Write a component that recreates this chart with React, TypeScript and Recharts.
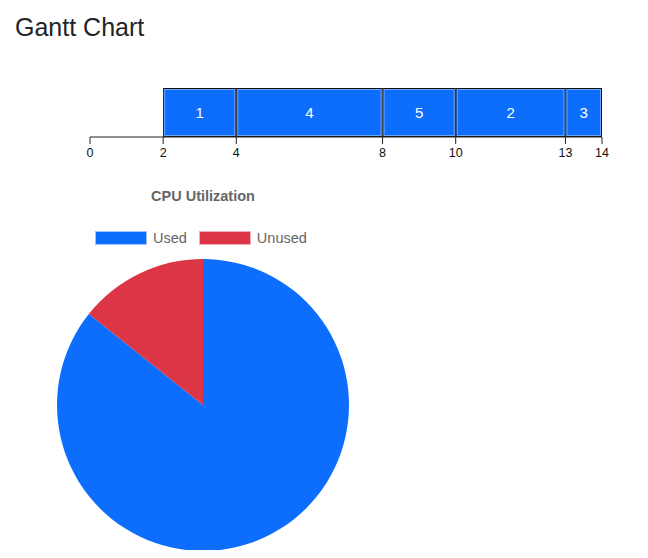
import { BarChart, Bar, XAxis, YAxis, LabelList, PieChart, Pie, Cell, Legend } from 'recharts'

// gantt: process order and burst durations, first 2 units idle
const processes = ['1', '4', '5', '2', '3']
const durations = [2, 4, 2, 3, 1]
const idleStart = 2
const timeTicks = [0, 2, 4, 8, 10, 13, 14]

// cpu utilization
const cpuLabels = ['Used', 'Unused']
const cpuValues = [12, 2]
const cpuColors = ['#0d6efd', '#dc3545']

const ganttRow: Record<string, number | string> = { name: 'cpu', idle: idleStart }
processes.forEach((p, i) => {
  ganttRow['p' + p] = durations[i]
})
const ganttData = [ganttRow]

const pieData = cpuLabels.map((name, i) => ({ name, value: cpuValues[i] }))

const BLUE = '#0d6efd'

const BlockShape = (props: any) => {
  const { x, y, width, height } = props
  if (!width || width <= 0) return null
  return (
    <g>
      <rect x={x + 0.5} y={y + 0.5} width={width - 1} height={height - 1} fill={BLUE} stroke="#111" strokeWidth={1} />
      <rect x={x + 1.5} y={y + 1.5} width={width - 3} height={height - 3} fill="none" stroke="#6ea8fe" strokeWidth={1} />
    </g>
  )
}

const CpuLegend = () => (
  <div style={{ display: 'flex', alignItems: 'center', fontFamily: 'Arial, "Liberation Sans", sans-serif', fontSize: 14.5, color: '#666' }}>
    {cpuLabels.map((label, i) => (
      <div key={label} style={{ display: 'flex', alignItems: 'center', marginRight: 12 }}>
        <span style={{ display: 'inline-block', width: 52, height: 14, background: cpuColors[i], border: '1px solid rgba(255,255,255,0.6)', boxSizing: 'border-box', marginRight: 6 }} />
        <span>{label}</span>
      </div>
    ))}
  </div>
)

export default function App() {
  return (
    <div style={{ position: 'relative', width: 632, height: 542, fontFamily: 'Arial, "Liberation Sans", sans-serif' }}>
      <div style={{ position: 'absolute', left: 7, top: 5, fontSize: 25, color: '#212529' }}>Gantt Chart</div>

      <div style={{ position: 'absolute', left: 0, top: 0 }}>
        <BarChart
          width={632}
          height={160}
          data={ganttData}
          layout="vertical"
          barCategoryGap={0}
          margin={{ top: 80, right: 38, bottom: 1, left: 82 }}
        >
          <XAxis
            type="number"
            domain={[0, 14]}
            ticks={timeTicks}
            interval={0}
            height={30}
            tickSize={7}
            tickMargin={4}
            stroke="#222"
            tick={{ fill: '#111', fontSize: 12.5 }}
          />
          <YAxis type="category" dataKey="name" hide />
          <Bar dataKey="idle" stackId="g" fill="transparent" isAnimationActive={false} />
          {processes.map((p) => (
            <Bar key={p} dataKey={'p' + p} stackId="g" shape={BlockShape} isAnimationActive={false}>
              <LabelList position="center" content={(lp: any) => (
                <text x={lp.x + lp.width / 2} y={lp.y + lp.height / 2} textAnchor="middle" dominantBaseline="central" fill="#fff" fontSize={15}>
                  {p}
                </text>
              )} />
            </Bar>
          ))}
        </BarChart>
      </div>

      <div style={{ position: 'absolute', left: 0, top: 180, width: 390, textAlign: 'center', fontSize: 14.5, fontWeight: 'bold', color: '#666' }}>
        CPU Utilization
      </div>

      <div style={{ position: 'absolute', left: 0, top: 172 }}>
        <PieChart width={400} height={375}>
          <Legend content={<CpuLegend />} wrapperStyle={{ left: 87, top: 50, width: 300 }} />
          <Pie
            data={pieData}
            dataKey="value"
            nameKey="name"
            cx={190}
            cy={220}
            outerRadius={146}
            startAngle={90}
            endAngle={-270}
            stroke="none"
            isAnimationActive={false}
          >
            {pieData.map((d, i) => (
              <Cell key={d.name} fill={cpuColors[i]} />
            ))}
          </Pie>
        </PieChart>
      </div>
    </div>
  )
}
